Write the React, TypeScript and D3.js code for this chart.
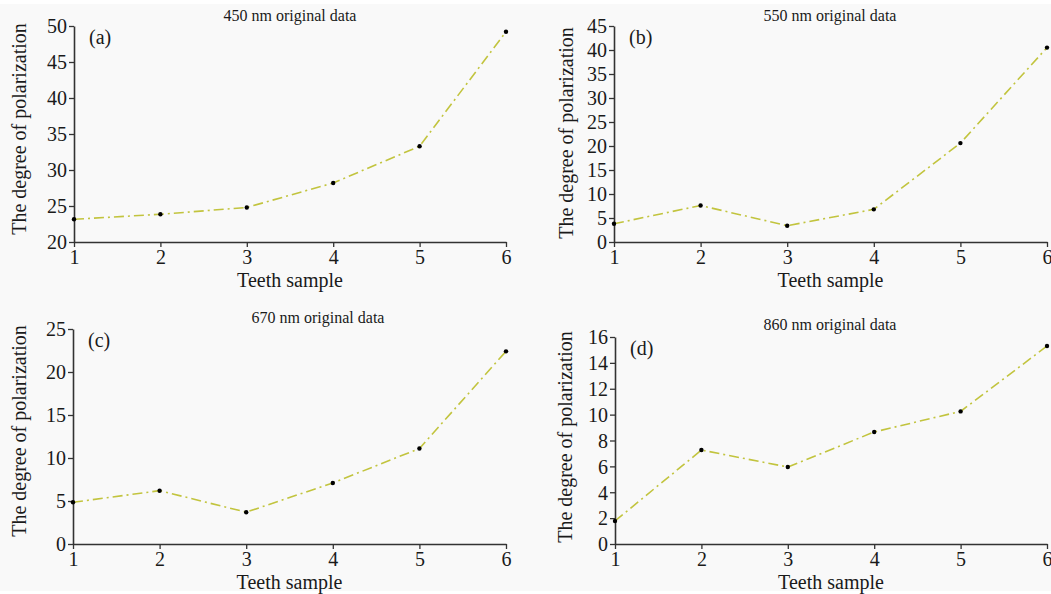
import { useEffect, useRef } from 'react';
import * as d3 from 'd3';

// Teeth samples on the x axis
const samples = [1, 2, 3, 4, 5, 6];

// Degree of polarization
const values450 = [23.15, 23.85, 24.8, 28.2, 33.3, 49.2];
const values550 = [3.8, 7.6, 3.4, 6.8, 20.6, 40.5];
const values670 = [4.85, 6.2, 3.7, 7.1, 11.1, 22.4];
const values860 = [1.78, 7.26, 5.95, 8.66, 10.25, 15.3];

const titles = ['450 nm original data', '550 nm original data', '670 nm original data', '860 nm original data'];
const panelTags = ['(a)', '(b)', '(c)', '(d)'];
const yDomains: [number, number][] = [[20, 50], [0, 45], [0, 25], [0, 16]];
const yTicks = [
  [20, 25, 30, 35, 40, 45, 50],
  [0, 5, 10, 15, 20, 25, 30, 35, 40, 45],
  [0, 5, 10, 15, 20, 25],
  [0, 2, 4, 6, 8, 10, 12, 14, 16],
];

const WIDTH = 1051;
const HEIGHT = 594;
const FONT = '"Liberation Serif", "Times New Roman", serif';
const LINE_COLOR = '#c2c43e';
const TEXT_COLOR = '#1a1a1a';

// plot boxes for each panel (pixel frame of the axes)
const frames = [
  { left: 74, right: 506, top: 26, bottom: 242, titleX: 290, titleY: 21, yLabelX: 26, yLabelY: 129, xLabelY: 287 },
  { left: 614, right: 1047, top: 26, bottom: 242, titleX: 830, titleY: 21, yLabelX: 573, yLabelY: 133, xLabelY: 287 },
  { left: 73, right: 506, top: 329, bottom: 544, titleX: 318, titleY: 323, yLabelX: 26, yLabelY: 431, xLabelY: 589 },
  { left: 615, right: 1047, top: 337, bottom: 544, titleX: 830, titleY: 330, yLabelX: 572, yLabelY: 437, xLabelY: 589 },
];

export default function App() {
  const svgRef = useRef<SVGSVGElement | null>(null);

  useEffect(() => {
    if (!svgRef.current) return;
    const svg = d3.select(svgRef.current);
    svg.selectAll('*').remove();

    // light grey page with thin white strips top and bottom
    svg.append('rect').attr('x', 0).attr('y', 0).attr('width', WIDTH).attr('height', HEIGHT).attr('fill', '#ffffff');
    svg.append('rect').attr('x', 0).attr('y', 4).attr('width', WIDTH).attr('height', 587).attr('fill', '#f9f9f9');

    const series = [values450, values550, values670, values860];

    series.forEach((vals, i) => {
      const f = frames[i];
      const g = svg.append('g');

      const x = d3.scaleLinear().domain([1, 6]).range([f.left, f.right]);
      const y = d3.scaleLinear().domain(yDomains[i]).range([f.bottom, f.top]);

      // axes
      const xAxis = d3.axisBottom(x).tickValues(samples).tickFormat(d3.format('d')).tickSize(5).tickPadding(3).tickSizeOuter(0);
      const yAxis = d3.axisLeft(y).tickValues(yTicks[i]).tickFormat(d3.format('d')).tickSize(5).tickPadding(2).tickSizeOuter(0);

      const gx = g.append('g').attr('transform', `translate(0,${f.bottom})`).call(xAxis);
      const gy = g.append('g').attr('transform', `translate(${f.left},0)`).call(yAxis);

      [gx, gy].forEach(ax => {
        ax.attr('font-family', FONT);
        ax.select('.domain').attr('stroke', '#333').attr('stroke-width', 1.6);
        ax.selectAll('.tick line').attr('stroke', '#333').attr('stroke-width', 1.3);
        ax.selectAll('.tick text')
          .attr('fill', TEXT_COLOR)
          .attr('font-family', FONT)
          .attr('font-size', 20);
      });
      gy.selectAll('.tick text').attr('dy', '0.34em');

      // dash-dot line
      const line = d3.line<number>()
        .x((d, k) => x(samples[k]))
        .y(d => y(d));

      g.append('path')
        .datum(vals)
        .attr('fill', 'none')
        .attr('stroke', LINE_COLOR)
        .attr('stroke-width', 1.6)
        .attr('stroke-dasharray', '10,4,2,4')
        .attr('d', line);

      // markers
      g.selectAll('circle.pt')
        .data(vals)
        .enter()
        .append('circle')
        .attr('class', 'pt')
        .attr('cx', (d, k) => x(samples[k]))
        .attr('cy', d => y(d))
        .attr('r', 2.2)
        .attr('fill', '#000');

      // title
      g.append('text')
        .attr('x', f.titleX)
        .attr('y', f.titleY)
        .attr('text-anchor', 'middle')
        .attr('font-family', FONT)
        .attr('font-size', 16)
        .attr('fill', TEXT_COLOR)
        .text(titles[i]);

      // panel tag
      g.append('text')
        .attr('x', f.left + 15)
        .attr('y', f.top + 18)
        .attr('font-family', FONT)
        .attr('font-size', 20)
        .attr('fill', TEXT_COLOR)
        .text(panelTags[i]);

      // x label
      g.append('text')
        .attr('x', (f.left + f.right) / 2)
        .attr('y', f.xLabelY)
        .attr('text-anchor', 'middle')
        .attr('font-family', FONT)
        .attr('font-size', 20)
        .attr('fill', TEXT_COLOR)
        .text('Teeth sample');

      // y label
      g.append('text')
        .attr('transform', `translate(${f.yLabelX},${f.yLabelY}) rotate(-90)`)
        .attr('text-anchor', 'middle')
        .attr('font-family', FONT)
        .attr('font-size', 20)
        .attr('fill', TEXT_COLOR)
        .text('The degree of polarization');
    });
  }, []);

  return (
    <div style={{ position: 'absolute', left: 0, top: 0, width: WIDTH, height: HEIGHT }}>
      <svg ref={svgRef} width={WIDTH} height={HEIGHT} style={{ display: 'block' }} />
    </div>
  );
}
